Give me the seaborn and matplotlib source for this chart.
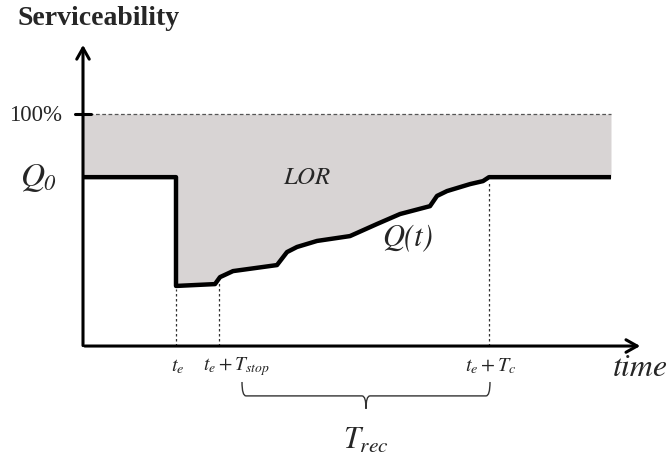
import matplotlib
matplotlib.use("Agg")
import matplotlib.pyplot as plt
import seaborn as sns
import pandas as pd
import numpy as np
from matplotlib.path import Path
from matplotlib.patches import PathPatch

# Serviceability Q(t) over time (arbitrary time units, serviceability in %)
time_pts = [0, 93, 93, 132, 137, 150, 194, 204, 214, 234, 267, 294, 317,
            347, 354, 364, 387, 400, 406, 528]
service = [72.8, 72.8, 25.9, 26.7, 29.7, 32.3, 34.9, 40.5, 42.7, 45.3, 47.4,
           52.6, 56.9, 60.3, 64.7, 66.8, 69.8, 71.1, 72.8, 72.8]

t_e = 93
t_stop = 136
t_c = 406
q_full = 100.0
q0 = 72.8
t_end_axis = 560
q_top_axis = 130

sns.set_style("white")
plt.rcParams["mathtext.fontset"] = "custom"
plt.rcParams["mathtext.rm"] = "STIXGeneral"
plt.rcParams["mathtext.it"] = "STIXGeneral:italic"
plt.rcParams["mathtext.bf"] = "STIXGeneral:bold"
plt.rcParams["font.family"] = ["Liberation Serif", "DejaVu Serif"]

fig = plt.figure(figsize=(6.67, 4.60), dpi=100)
ax = fig.add_axes([0, 0, 1, 1])
ax.set_xlim(-83, 584)
ax.set_ylim(-48.7, 149.6)
ax.axis("off")

df = pd.DataFrame({"time": time_pts, "Q": service})

# loss of resilience area between Q(t) and 100%
ax.fill_between(df["time"], df["Q"], q_full, color="#d8d4d4", lw=0, zorder=1)
ax.plot([0, time_pts[-1]], [q_full, q_full], ls=(0, (3, 2)), color="#555555",
        lw=0.9, zorder=2)

sns.lineplot(data=df, x="time", y="Q", ax=ax, color="black", lw=3.2,
             sort=False, estimator=None, zorder=4,
             solid_joinstyle="round", solid_capstyle="butt")

# axes with arrows
ax.annotate("", xy=(0, q_top_axis + 1), xytext=(0, -1),
            arrowprops=dict(arrowstyle="->,head_length=0.8,head_width=0.45",
                            lw=2.2, color="black"), zorder=5)
ax.annotate("", xy=(t_end_axis, 0), xytext=(-1, 0),
            arrowprops=dict(arrowstyle="->,head_length=0.8,head_width=0.45",
                            lw=2.2, color="black"), zorder=5)
ax.plot([-8, 8], [q_full, q_full], color="black", lw=2.2, zorder=5)

# guide lines at the key instants
for tx in (t_e, t_stop, t_c):
    qv = np.interp(tx + 0.01, time_pts, service)
    ax.plot([tx, tx], [0, qv - 1.5], ls=(0, (2, 2)), color="#333333",
            lw=0.9, zorder=3)

ital = dict(family="STIXGeneral", style="italic", ha="center", va="center")

# labels
ax.text(16, 141.8, "Serviceability", fontsize=20, fontweight="bold",
        ha="center", va="center")
ax.text(-47, q_full, "100%", fontsize=16.5, ha="center", va="center")
# Q with an italic zero subscript
ax.text(-51, q0, "Q", fontsize=24, **ital)
ax.text(-34, q0 - 2.8, "0", fontsize=16, **ital)
ax.text(224, q0, "LOR", fontsize=18, **ital)
ax.text(325, 47.4, "Q(t)", fontsize=22, **ital)
ax.text(557, -9.5, "time", fontsize=23, **ital)
ax.text(t_e + 2, -8.5, r"$t_e$", fontsize=14.5, ha="center", va="center")
ax.text(t_stop + 17, -8.5, r"$t_e + T_{stop}$", fontsize=14, ha="center",
        va="center")
ax.text(t_c + 2, -8.5, r"$t_e + T_c$", fontsize=14.5, ha="center",
        va="center")

# brace under the recovery period
b0, b1 = t_stop + 23, t_c + 1
bm = 0.5 * (b0 + b1)
ytop, ymid, ytip = -15.5, -21.5, -27
verts = [(b0, ytop), (b0, ymid), (b0 + 4, ymid), (bm - 4, ymid), (bm, ymid),
         (bm, ytip), (bm, ymid), (bm + 4, ymid), (b1 - 4, ymid), (b1, ymid),
         (b1, ytop)]
codes = [Path.MOVETO, Path.CURVE3, Path.CURVE3, Path.LINETO, Path.CURVE3,
         Path.CURVE3, Path.CURVE3, Path.CURVE3, Path.LINETO, Path.CURVE3,
         Path.CURVE3]
ax.add_patch(PathPatch(Path(verts, codes), fill=False, lw=1.0,
                       edgecolor="#333333", zorder=3))
ax.text(bm, -40.5, r"$T_{rec}$", fontsize=22, ha="center", va="center")

fig.savefig("out.png", dpi=100)
